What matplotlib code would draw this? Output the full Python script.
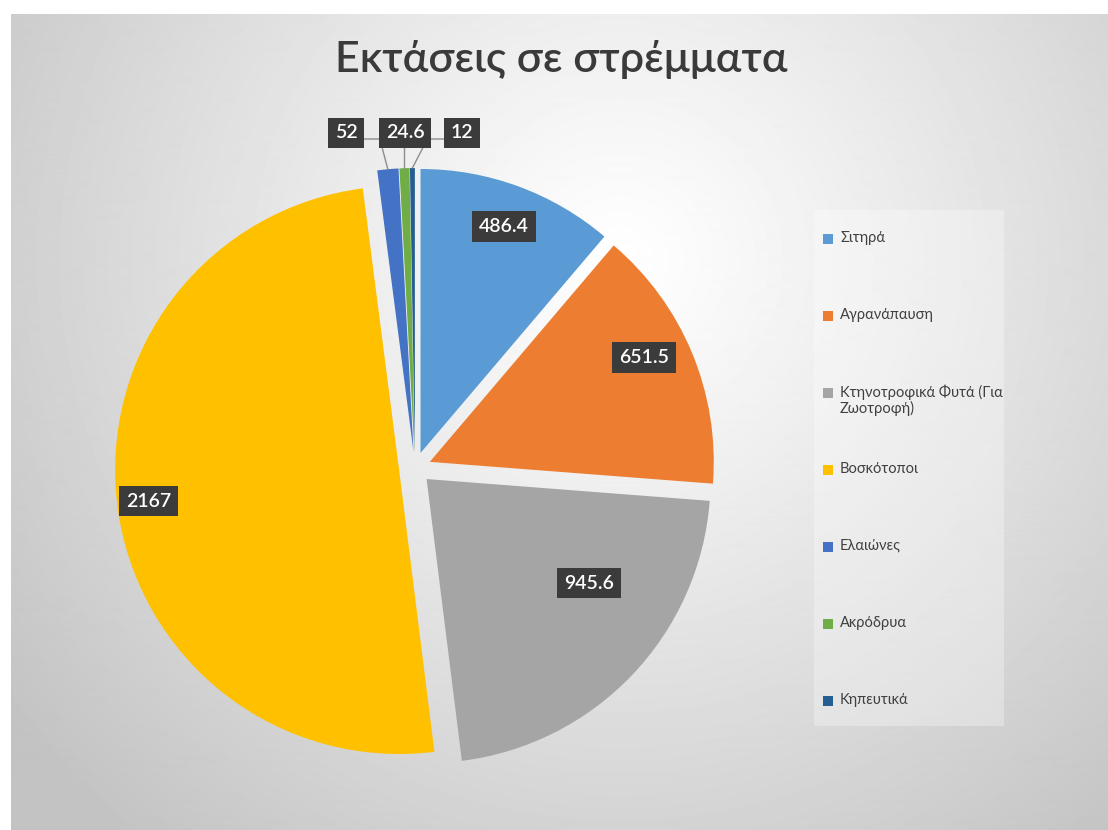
import matplotlib.pyplot as plt
import matplotlib.patches as mpatches
import numpy as np

# Εκτάσεις ανά καλλιέργεια (στρέμματα)
categories = ['Σιτηρά', 'Αγρανάπαυση', 'Κτηνοτροφικά Φυτά (Για\nΖωοτροφή)',
              'Βοσκότοποι', 'Ελαιώνες', 'Ακρόδρυα', 'Κηπευτικά']
areas = [486.4, 651.5, 945.6, 2167, 52, 24.6, 12]
value_labels = ['486.4', '651.5', '945.6', '2167', '52', '24.6', '12']
colors = ['#5B9BD5', '#ED7D31', '#A5A5A5', '#FFC000', '#4472C4', '#70AD47', '#255E91']
title = 'Εκτάσεις σε στρέμματα'

W, H = 1108, 830

fig = plt.figure(figsize=(W / 100, H / 100), dpi=100)
ax = fig.add_axes([0, 0, 1, 1])

# radial grey background of the chart area
left, top = 11, 15
yy, xx = np.mgrid[top:H, left:W]
d = np.hypot(xx - 620, yy - 260) / 760
shade = 1 - (1 - 0.765) * np.clip(d, 0, 1) ** 1.1
ax.imshow(shade, cmap='gray', vmin=0, vmax=1, extent=(left, W, 0, H - top),
          origin='upper', zorder=0, interpolation='bilinear')

cx, cy, R = 415, H - 468, 284
wedges, _ = ax.pie(areas, colors=colors, startangle=90, counterclock=False,
                   explode=[16] * len(areas), radius=R, center=(cx, cy),
                   wedgeprops=dict(linewidth=0, zorder=2))
ax.set_xlim(0, W)
ax.set_ylim(0, H)
ax.set_aspect('equal')
ax.axis('off')

label_style = dict(color='white', fontsize=14, fontweight='semibold', family='Lato',
                   ha='center', va='center', zorder=5,
                   bbox=dict(boxstyle='square,pad=0.35', fc='#3b3b3b', ec='none'))

# large slices: label inside, (radius fraction, angle shift)
inside = {0: (0.85, 0.0), 1: (0.84, 3.4), 2: (0.68, 11.0), 3: (0.89, -0.2)}
for i, (frac, dang) in inside.items():
    w = wedges[i]
    ang = np.radians((w.theta1 + w.theta2) / 2 + dang)
    x0, y0 = w.center
    ax.text(x0 + frac * R * np.cos(ang), y0 + frac * R * np.sin(ang),
            value_labels[i], **label_style)

# small slices: labels above the pie with leader lines
outside = {4: (346, -8), 5: (405, 0), 6: (462, 15)}
label_y = H - 133
for i, (lx, knee) in outside.items():
    w = wedges[i]
    ang = np.radians((w.theta1 + w.theta2) / 2)
    x0, y0 = w.center
    tx, ty = x0 + R * np.cos(ang), y0 + R * np.sin(ang)
    ax.plot([lx, tx + knee, tx], [label_y - 6, label_y - 6, ty],
            color='#8c8c8c', lw=1, zorder=4)
    ax.text(lx, label_y, value_labels[i], **label_style)

ax.text(561, H - 60, title, ha='center', va='center', fontsize=31,
        fontweight='semibold', color='#3a3a3a', family='Lato')

# legend: evenly spaced slots, long names wrap downwards
ax.add_patch(mpatches.Rectangle((814, H - 726), 190, 516, fc='white',
                                alpha=0.3, ec='none', zorder=1))
slot0, step = H - 239, 77
for k, (name, col) in enumerate(zip(categories, colors)):
    y = slot0 - k * step
    ax.add_patch(mpatches.Rectangle((823, y - 5), 10, 10, fc=col, ec='none', zorder=3))
    ax.text(840, y + 8, name, ha='left', va='top', fontsize=10.5, family='Lato',
            color='#404040', linespacing=1.05, zorder=3)

fig.savefig('out.png', dpi=100, facecolor='white')
